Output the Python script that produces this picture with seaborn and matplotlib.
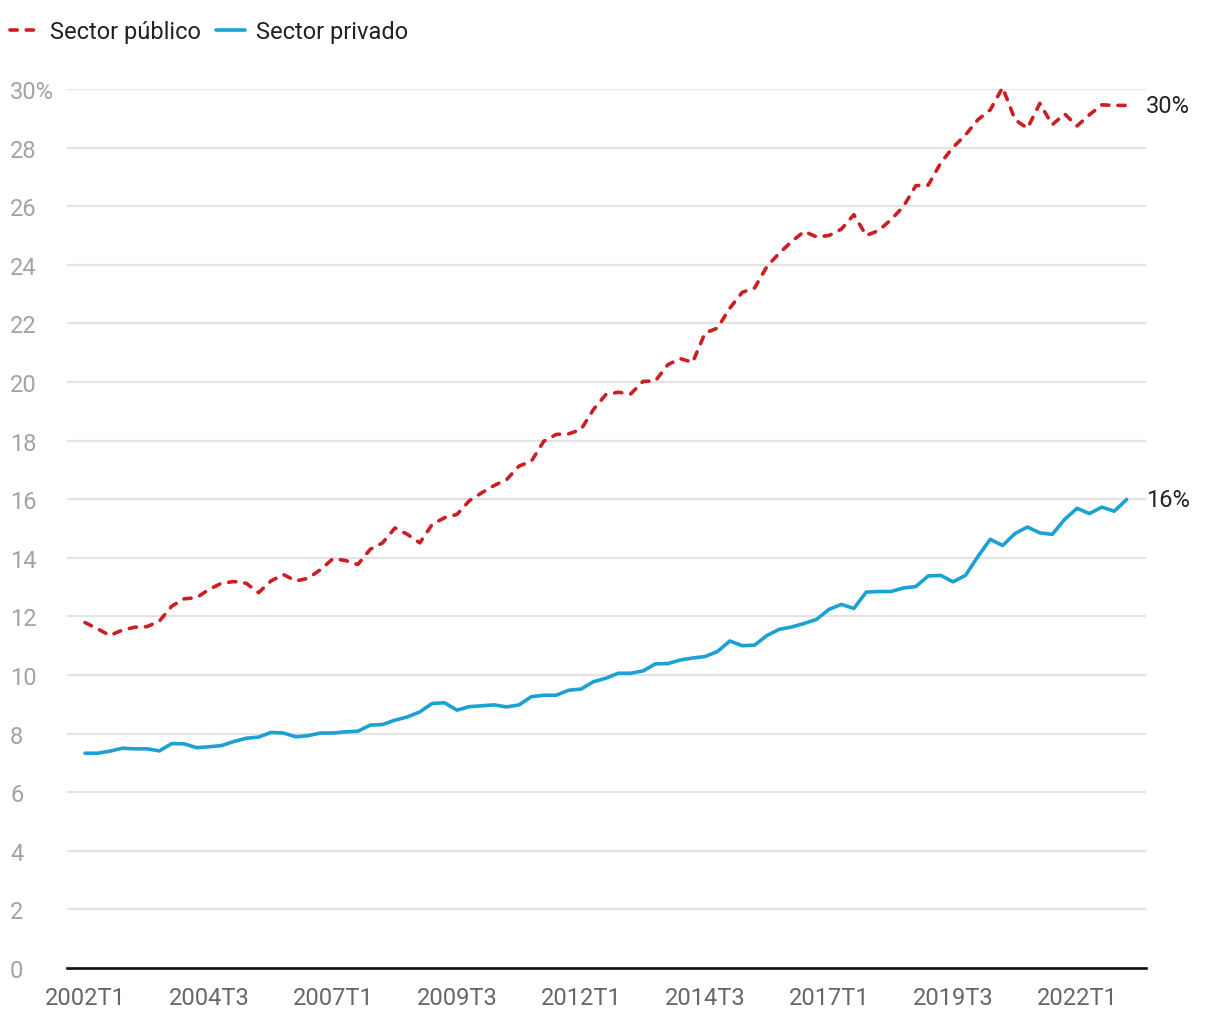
import matplotlib
matplotlib.use("Agg")
import matplotlib.pyplot as plt
import matplotlib.transforms as mtransforms
from matplotlib.lines import Line2D
import seaborn as sns
import pandas as pd

# ---- data (2002T1 .. 2023T1) ----
publico = [11.79, 11.58, 11.35, 11.53, 11.63, 11.65, 11.84, 12.35, 12.60, 12.64,
           12.92, 13.13, 13.19, 13.13, 12.81, 13.21, 13.43, 13.21, 13.30, 13.60,
           13.97, 13.91, 13.77, 14.29, 14.51, 15.02, 14.80, 14.51, 15.14, 15.37,
           15.48, 15.95, 16.22, 16.47, 16.67, 17.13, 17.30, 17.98, 18.21, 18.23,
           18.38, 19.06, 19.57, 19.65, 19.59, 20.02, 20.04, 20.59, 20.80, 20.67,
           21.67, 21.84, 22.52, 23.06, 23.21, 23.95, 24.40, 24.80, 25.14, 24.95,
           25.00, 25.22, 25.71, 25.00, 25.17, 25.54, 25.99, 26.70, 26.72, 27.47,
           28.01, 28.43, 28.95, 29.29, 30.05, 28.95, 28.66, 29.51, 28.78, 29.15,
           28.74, 29.12, 29.46, 29.44, 29.44]
privado = [7.33, 7.33, 7.40, 7.50, 7.48, 7.48, 7.41, 7.66, 7.65, 7.52,
           7.55, 7.59, 7.73, 7.84, 7.88, 8.04, 8.02, 7.89, 7.93, 8.02,
           8.02, 8.06, 8.08, 8.29, 8.31, 8.46, 8.57, 8.74, 9.03, 9.05,
           8.80, 8.92, 8.95, 8.98, 8.91, 8.98, 9.26, 9.31, 9.31, 9.48,
           9.52, 9.77, 9.89, 10.06, 10.06, 10.14, 10.38, 10.39, 10.51, 10.58,
           10.63, 10.80, 11.16, 11.00, 11.02, 11.35, 11.56, 11.64, 11.76, 11.90,
           12.24, 12.41, 12.27, 12.83, 12.85, 12.85, 12.97, 13.02, 13.38, 13.40,
           13.18, 13.40, 14.04, 14.63, 14.42, 14.83, 15.05, 14.85, 14.80, 15.31,
           15.69, 15.51, 15.73, 15.59, 15.99]
trimestres = [f"{2002 + q // 4}T{q % 4 + 1}" for q in range(len(privado))]
series_names = ["Sector público", "Sector privado"]
end_labels = ["30%", "16%"]
yticks = [0, 2, 4, 6, 8, 10, 12, 14, 16, 18, 20, 22, 24, 26, 28, 30]
ytick_labels = ["0", "2", "4", "6", "8", "10", "12", "14", "16", "18", "20",
                "22", "24", "26", "28", "30%"]

df = pd.DataFrame({
    "idx": list(range(len(publico))) * 2,
    "trimestre": trimestres * 2,
    "valor": publico + privado,
    "sector": [series_names[0]] * len(publico) + [series_names[1]] * len(privado),
})

RED = "#cc1f24"
BLUE = "#1ba1d2"
DASH = (2.0, 2.5)

sns.set_theme(style="white")
plt.rcParams["font.family"] = ["Roboto", "DejaVu Sans"]

fig = plt.figure(figsize=(12.2, 10.2), dpi=100)
W, H = 1220, 1020
ax = fig.add_axes([67 / W, 1 - 969 / H, (1146 - 67) / W, (969 - 90) / H])

sns.lineplot(data=df, x="idx", y="valor", hue="sector", style="sector",
             palette={series_names[0]: RED, series_names[1]: BLUE},
             dashes={series_names[0]: DASH, series_names[1]: ""},
             linewidth=2.6, legend=False, ax=ax, zorder=3)
for ln in ax.lines:
    ln.set_clip_on(False)
    ln.set_dash_capstyle("round")
    ln.set_solid_capstyle("round")
    ln.set_solid_joinstyle("round")
    ln.set_dash_joinstyle("round")

ax.set_xlim(-1.45, 85.56)
ax.set_ylim(0, 30)

# grid
ax.set_yticks(yticks)
ax.set_yticklabels(ytick_labels)
ax.yaxis.grid(True, color="#e3e3e3", linewidth=1.6, zorder=0)
ax.xaxis.grid(False)
for s in ["left", "right", "top"]:
    ax.spines[s].set_visible(False)
ax.spines["bottom"].set_color("#111111")
ax.spines["bottom"].set_linewidth(1.9)
ax.spines["bottom"].set_zorder(4)

ax.tick_params(axis="y", length=0, pad=41, labelsize=17, labelcolor="#a3a3a3")
for lab in ax.get_yticklabels():
    lab.set_horizontalalignment("left")

xt = list(range(0, len(trimestres), 10))
ax.set_xticks(xt)
ax.set_xticklabels([trimestres[i] for i in xt])
ax.tick_params(axis="x", length=0, pad=13, labelsize=17, labelcolor="#666666")
ax.set_xlabel("")
ax.set_ylabel("")

# end labels
trans = mtransforms.blended_transform_factory(ax.transAxes, ax.transData)
ax.text(1.0, publico[-1], end_labels[0], transform=trans, fontsize=17,
        color="#222222", va="center", ha="left")
ax.text(1.0, privado[-1], end_labels[1], transform=trans, fontsize=17,
        color="#222222", va="center", ha="left")

# legend
h1 = Line2D([], [], color=RED, linewidth=2.6, dashes=DASH, dash_capstyle="round")
h2 = Line2D([], [], color=BLUE, linewidth=2.6, solid_capstyle="round")
fig.legend([h1, h2], series_names, loc="upper left", bbox_to_anchor=(10 / W, 1 - 21 / H),
           ncol=2, frameon=False, fontsize=17, handlelength=1.2, handletextpad=0.5,
           columnspacing=0.65, borderpad=0, borderaxespad=0, labelcolor="#222222")

fig.savefig("out.png", dpi=100)
